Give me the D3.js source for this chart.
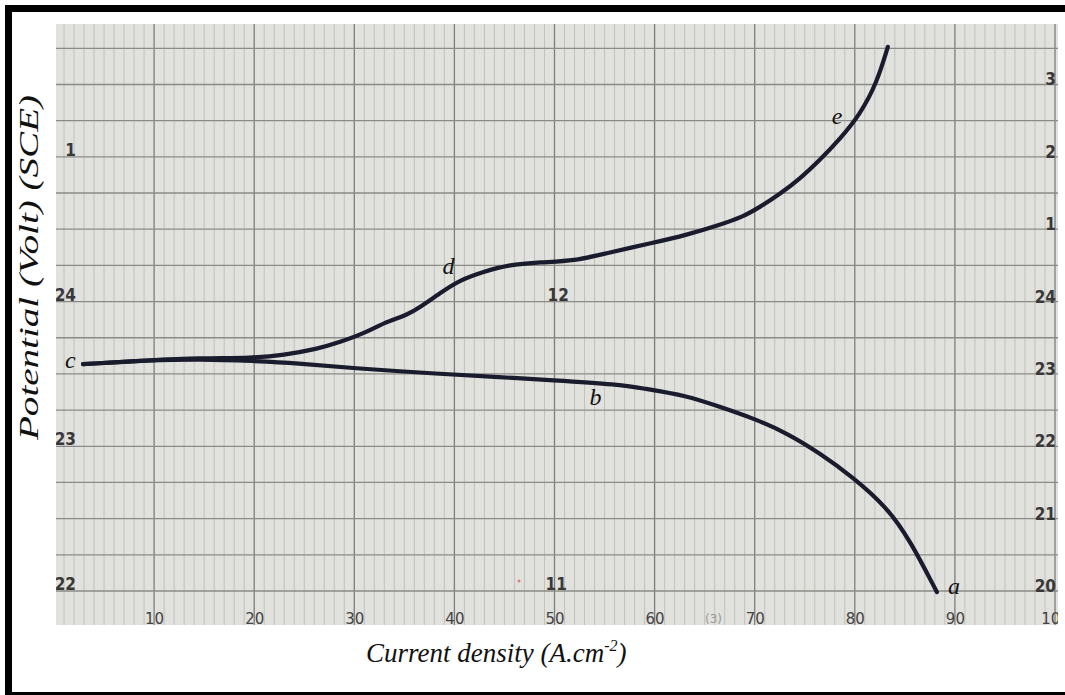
<!DOCTYPE html>
<html>
<head>
<meta charset="utf-8">
<script src="https://d3js.org/d3.v7.min.js"></script>
<style>
  body { margin: 0; background: #fff; }
  .paperlbl { font-family: 'DejaVu Sans Condensed', 'Liberation Sans Narrow', 'Roboto', sans-serif; font-weight: bold; font-size: 17px; fill: #383838; }
  .serif { font-family: 'Liberation Serif', 'Times New Roman', serif; font-style: italic; fill: #111; }
</style>
</head>
<body>
<svg id="chart" width="1065" height="695"></svg>
<script>
// ---- data ----
// x: current density, y: potential in chart-paper divisions (0 = bottom line)
const xTicks = [10, 20, 30, 40, 50, 60, 70, 80, 90, 100];

const cathodicX = [88.2, 85.5, 83.2, 79.8, 76.5, 73.2, 69.8, 66.5, 63.2, 58.8, 56.5, 49.6, 44.6, 38.6, 29.6, 24.3, 19.9, 14.6, 9.6, 2.9];
const cathodicY = [-0.03, 1.41, 2.32, 3.15, 3.81, 4.37, 4.78, 5.09, 5.40, 5.60, 5.71, 5.83, 5.91, 6.00, 6.16, 6.30, 6.36, 6.41, 6.38, 6.27];

const anodicX = [2.9, 9.6, 14.6, 19.9, 22.9, 26.3, 28.6, 31.3, 32.9, 35.3, 36.6, 38.6, 40.6, 42.9, 45.3, 48.6, 52.0, 55.2, 59.8, 63.2, 66.5, 68.8, 70.5, 72.5, 74.5, 76.5, 78.5, 80.5, 82.2, 83.3];
const anodicY = [6.27, 6.38, 6.44, 6.44, 6.52, 6.69, 6.88, 7.16, 7.41, 7.63, 7.85, 8.24, 8.60, 8.82, 9.01, 9.09, 9.12, 9.34, 9.62, 9.84, 10.12, 10.34, 10.61, 10.97, 11.39, 11.91, 12.49, 13.16, 14.04, 15.04];

const pointNames = ["a", "b", "c", "d", "e"];
const pointX = [89.3, 53.5, 1.1, 38.8, 77.7];
const pointY = [-0.08, 5.14, 6.16, 8.76, 12.91];

// printed numbers on the recorder paper
const leftText = ["1", "24", "23", "22"];
const leftLine = [12, 8, 4, 0];
const rightText = ["3", "2", "1", "24", "23", "22", "21", "20"];
const rightLine = [14, 12, 10, 8, 6, 4, 2, 0];
const midText = ["12", "11"];
const midX = [49.3, 49.1];
const midLine = [8, 0];

const svg = d3.select("#chart");
const sx = d3.scaleLinear().domain([0, 100]).range([54, 1055]);
const sy = d3.scaleLinear().domain([0, 15]).range([591, 48.3]);

const paper = { x: 56, y: 24, w: 1002, h: 601 };

svg.append("clipPath").attr("id", "pclip")
   .append("rect").attr("x", paper.x).attr("y", paper.y).attr("width", paper.w).attr("height", paper.h);

const g = svg.append("g").attr("clip-path", "url(#pclip)");
g.append("rect").attr("x", paper.x).attr("y", paper.y).attr("width", paper.w).attr("height", paper.h)
 .attr("fill", "#e1e1de");

// minor verticals every unit, major every 10
g.selectAll("line.minor")
 .data(d3.range(0, 101).filter(d => d % 10 !== 0))
 .join("line").attr("class", "minor")
 .attr("x1", d => sx(d)).attr("x2", d => sx(d))
 .attr("y1", paper.y).attr("y2", paper.y + paper.h)
 .attr("stroke", "#bdbdb8").attr("stroke-width", 0.9);

g.selectAll("line.major")
 .data(d3.range(0, 101, 10))
 .join("line").attr("class", "major")
 .attr("x1", d => sx(d)).attr("x2", d => sx(d))
 .attr("y1", paper.y).attr("y2", paper.y + paper.h)
 .attr("stroke", "#7e7e78").attr("stroke-width", 1.3);

g.selectAll("line.hline")
 .data(d3.range(0, 16))
 .join("line").attr("class", "hline")
 .attr("x1", paper.x).attr("x2", paper.x + paper.w)
 .attr("y1", d => sy(d)).attr("y2", d => sy(d))
 .attr("stroke", "#8b8b85").attr("stroke-width", 1.3);

// x tick numbers printed on the paper
const xAxis = g.append("g").attr("transform", "translate(0,624)")
 .call(d3.axisBottom(sx).tickValues(xTicks).tickSize(0).tickPadding(0));
xAxis.select(".domain").remove();
xAxis.selectAll("text")
 .attr("dy", 0).attr("y", 0)
 .attr("font-family", "'DejaVu Sans', sans-serif").attr("font-size", 15)
 .attr("fill", "#444");

g.selectAll("text.left").data(leftText).join("text").attr("class", "paperlbl left")
 .attr("x", 76).attr("y", (d, i) => sy(leftLine[i]) - 1)
 .attr("text-anchor", "end").text(d => d);

g.selectAll("text.right").data(rightText).join("text").attr("class", "paperlbl right")
 .attr("x", 1056).attr("y", (d, i) => sy(rightLine[i]) + 1)
 .attr("text-anchor", "end").text(d => d);

g.selectAll("text.mid").data(midText).join("text").attr("class", "paperlbl mid")
 .attr("x", (d, i) => sx(midX[i])).attr("y", (d, i) => sy(midLine[i]) - 1)
 .text(d => d);

// faint marks on the paper
g.append("text").attr("x", 705).attr("y", 623).attr("font-family", "'DejaVu Sans', sans-serif")
 .attr("font-size", 12).attr("fill", "#9a9a96").text("(3)");
g.append("circle").attr("cx", 519).attr("cy", 581).attr("r", 1.5).attr("fill", "#d98080");

// curves
const line = d3.line().x(d => sx(d[0])).y(d => sy(d[1])).curve(d3.curveBasis);

g.append("path").datum(d3.zip(cathodicX, cathodicY))
 .attr("d", line).attr("fill", "none").attr("stroke", "#1b1b2e")
 .attr("stroke-width", 4.2).attr("stroke-linecap", "round");

g.append("path").datum(d3.zip(anodicX, anodicY))
 .attr("d", line).attr("fill", "none").attr("stroke", "#1b1b2e")
 .attr("stroke-width", 4.2).attr("stroke-linecap", "round");

g.selectAll("text.pt").data(pointNames).join("text").attr("class", "serif pt")
 .attr("x", (d, i) => sx(pointX[i])).attr("y", (d, i) => sy(pointY[i]))
 .attr("font-size", 24).text(d => d);

// axis titles
svg.append("text").attr("class", "serif")
 .attr("transform", "rotate(-90)")
 .attr("x", -440).attr("y", 38)
 .attr("font-size", 27)
 .attr("textLength", 345).attr("lengthAdjust", "spacingAndGlyphs")
 .text("Potential (Volt) (SCE)");

const xt = svg.append("text").attr("class", "serif")
 .attr("x", 366).attr("y", 662).attr("font-size", 27);
xt.append("tspan").text("Current density (A.cm");
xt.append("tspan").attr("font-size", 16).attr("dy", -11).text("-2");
xt.append("tspan").attr("dy", 11).text(")");

// black frame
svg.append("rect").attr("x", 5).attr("y", 5).attr("width", 7).attr("height", 690).attr("fill", "#000");
svg.append("rect").attr("x", 5).attr("y", 5).attr("width", 1060).attr("height", 7).attr("fill", "#000");
svg.append("rect").attr("x", 5).attr("y", 692).attr("width", 1060).attr("height", 3).attr("fill", "#000");
</script>
</body>
</html>
